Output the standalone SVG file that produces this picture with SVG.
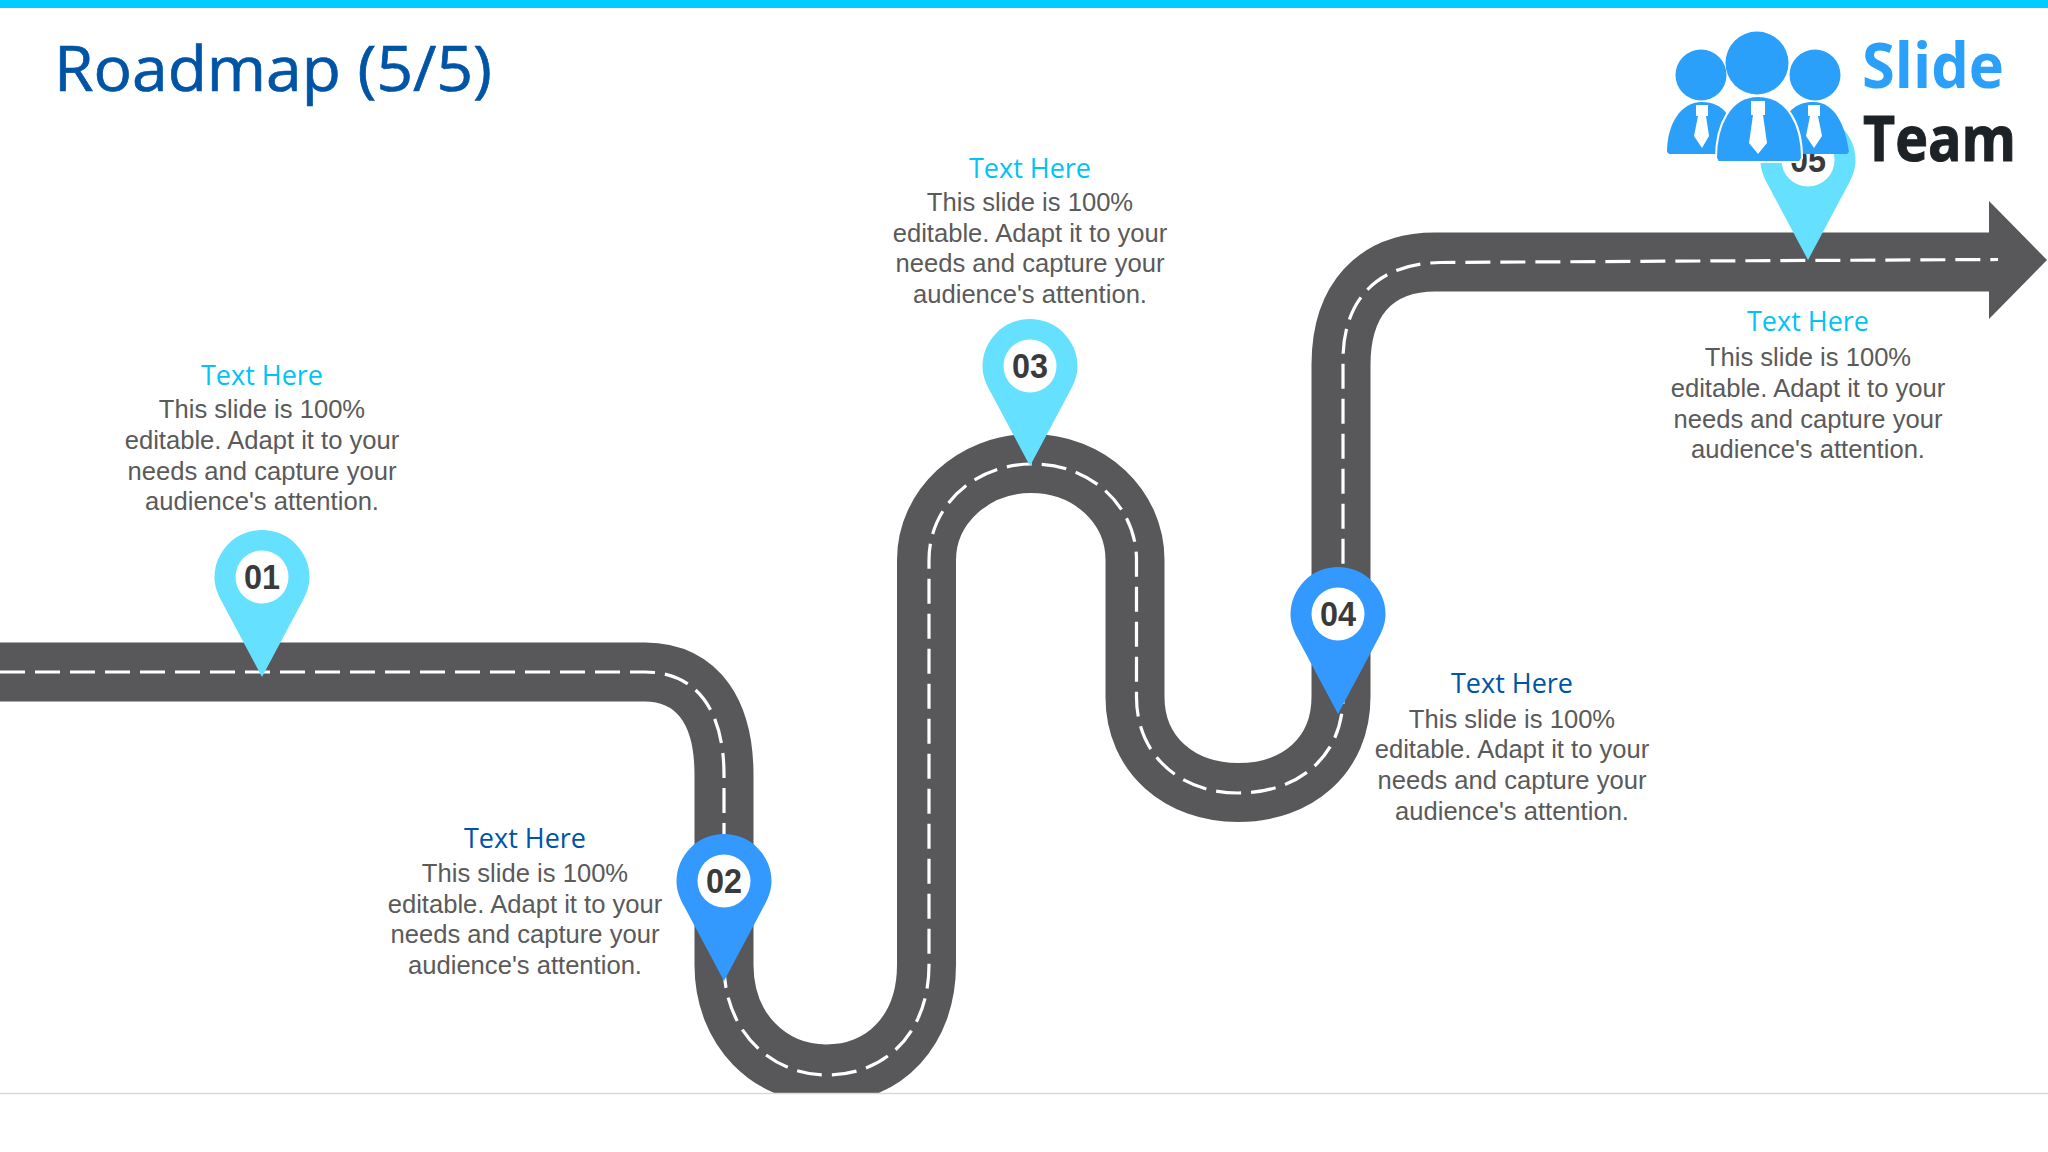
<svg xmlns="http://www.w3.org/2000/svg" width="2048" height="1152" viewBox="0 0 2048 1152">
<style>
.road{fill:none;stroke:#58575a;stroke-width:59}
.dash{fill:none;stroke:#fff;stroke-width:3.200;stroke-dasharray:25 10}
.hd{font-family:"Open Sans","Noto Sans",sans-serif;font-size:27.500px;text-anchor:middle}
.cy{fill:#00c4f5}.nv{fill:#0054a6}
.bd{font-family:"Liberation Sans",Arial,sans-serif;font-size:25.600px;fill:#5a5a5a;text-anchor:middle}
.num{font-family:"Liberation Sans",Arial,sans-serif;font-size:35px;font-weight:700;fill:#3a3a3c;text-anchor:middle}
.lt{fill:#66e0ff}.dk{fill:#3399ff}
.lg{fill:#2ba0fb}
</style>
<defs>
<path id="pin" d="M0 147 L-40 72 C-45 63 -47.500 55 -47.500 47.500 A47.500 47.500 0 0 1 47.500 47.500 C47.500 55 45 63 40 72 Z"/>
<clipPath id="clip"><rect x="0" y="0" width="2048" height="1093"/></clipPath>
</defs>
<rect width="2048" height="1152" fill="#fff"/>
<rect id="topbar" width="2048" height="8" fill="#00ccff"/>
<text x="54" y="91" font-family="Open Sans,Noto Sans,sans-serif" font-size="63" fill="#0054a6" stroke="#0054a6" stroke-width="0.700" textLength="438" lengthAdjust="spacingAndGlyphs">Roadmap (5/5)</text>
<g id="connectors" clip-path="url(#clip)">
<path class="road" d="M0 672 H645 C700 672 724 715 724 775 V965 C724 1030 770 1074 826 1074 C885 1074 926.500 1030 926.500 965 V560 C926.500 507 973 463.500 1031 463.500 C1090 463.500 1135 507 1135 560 V697 C1135 755 1180 792.500 1238 792.500 C1298 792.500 1341 755 1341 697 V365 C1341 300 1375 262 1435 262 H2000"/>
<path fill="#58575a" d="M1989 201 L2047 260 L1989 319 Z"/>
<path class="dash" d="M0 672 H645 C700 672 724 715 724 775 V965 C724 1030 770 1075 827 1075 C888 1075 929 1030 929 965 V560 C929 507 973 464 1033 464 C1092 464 1136.500 507 1136.500 560 V697 C1136.500 755 1180 793 1238 793 C1300 793 1343 755 1343 697 V360 C1343 305 1372 264 1440 262.500 L1700 261 L1998 259.500"/>
</g>
<line x1="0" y1="1093.500" x2="2048" y2="1093.500" stroke="#d9d9d9" stroke-width="1.500"/>
<g id="n1"><use href="#pin" class="lt" x="262" y="530"/><circle cx="262" cy="577" r="26.500" fill="#fff"/><text class="num" x="262" y="589" textLength="36" lengthAdjust="spacingAndGlyphs">01</text>
<text class="hd cy" x="262" y="385" textLength="122" lengthAdjust="spacingAndGlyphs">Text Here</text><text class="bd" x="262" y="418">This slide is 100%</text><text class="bd" x="262" y="449">editable. Adapt it to your</text><text class="bd" x="262" y="480">needs and capture your</text><text class="bd" x="262" y="510">audience's attention.</text></g>
<g id="n2"><use href="#pin" class="dk" x="724" y="834"/><circle cx="724" cy="881" r="26.500" fill="#fff"/><text class="num" x="724" y="893" textLength="36" lengthAdjust="spacingAndGlyphs">02</text>
<text class="hd nv" x="525" y="848" textLength="122" lengthAdjust="spacingAndGlyphs">Text Here</text><text class="bd" x="525" y="882">This slide is 100%</text><text class="bd" x="525" y="913">editable. Adapt it to your</text><text class="bd" x="525" y="943">needs and capture your</text><text class="bd" x="525" y="974">audience's attention.</text></g>
<g id="n3"><use href="#pin" class="lt" x="1030" y="319"/><circle cx="1030" cy="366" r="26.500" fill="#fff"/><text class="num" x="1030" y="378" textLength="36" lengthAdjust="spacingAndGlyphs">03</text>
<text class="hd cy" x="1030" y="178" textLength="122" lengthAdjust="spacingAndGlyphs">Text Here</text><text class="bd" x="1030" y="211">This slide is 100%</text><text class="bd" x="1030" y="242">editable. Adapt it to your</text><text class="bd" x="1030" y="272">needs and capture your</text><text class="bd" x="1030" y="303">audience's attention.</text></g>
<g id="n4"><use href="#pin" class="dk" x="1338" y="567"/><circle cx="1338" cy="614" r="26.500" fill="#fff"/><text class="num" x="1338" y="626" textLength="36" lengthAdjust="spacingAndGlyphs">04</text>
<text class="hd nv" x="1512" y="693" textLength="122" lengthAdjust="spacingAndGlyphs">Text Here</text><text class="bd" x="1512" y="728">This slide is 100%</text><text class="bd" x="1512" y="758">editable. Adapt it to your</text><text class="bd" x="1512" y="789">needs and capture your</text><text class="bd" x="1512" y="820">audience's attention.</text></g>
<g id="n5"><use href="#pin" class="lt" x="1808" y="113"/><circle cx="1808" cy="160" r="26.500" fill="#fff"/><text class="num" x="1808" y="172" textLength="36" lengthAdjust="spacingAndGlyphs">05</text>
<text class="hd cy" x="1808" y="331" textLength="122" lengthAdjust="spacingAndGlyphs">Text Here</text><text class="bd" x="1808" y="366">This slide is 100%</text><text class="bd" x="1808" y="397">editable. Adapt it to your</text><text class="bd" x="1808" y="428">needs and capture your</text><text class="bd" x="1808" y="458">audience's attention.</text></g>
<g id="logo">
<circle class="lg" cx="1701" cy="75" r="25.500"/><circle class="lg" cx="1815" cy="75" r="25.500"/><circle class="lg" cx="1757" cy="63" r="31.500"/>
<path class="lg" d="M1667 152 C1667 125 1680 102 1702 102 C1722 102 1735 115 1740 154 L1669 154 Z"/>
<path class="lg" d="M1849 152 C1845 125 1835 102 1813 102 C1793 102 1780 115 1775 154 L1847 154 Z"/>
<path class="lg" stroke="#fff" stroke-width="2" d="M1716 158 C1716 125 1730 96 1758 96 C1788 96 1802 125 1802 158 L1800 162 L1718 162 Z"/>
<path fill="#fff" d="M1696 105 H1708 V116 H1706 L1709 136 L1702 148 L1694 136 L1698 116 H1696 Z"/>
<path fill="#fff" d="M1751 101 H1765 V115 H1763 L1767 143 L1758 154 L1749 143 L1753 115 H1751 Z"/>
<path fill="#fff" d="M1808 105 H1820 V116 H1818 L1822 136 L1814 148 L1806 136 L1810 116 H1808 Z"/>
<text x="1862" y="88" font-family="Open Sans,Noto Sans,sans-serif" font-weight="700" font-size="62" fill="#2ba0fb" textLength="142" lengthAdjust="spacingAndGlyphs">Slide</text>
<text x="1863" y="161" font-family="Open Sans,Noto Sans,sans-serif" font-weight="700" font-size="62" fill="#1c2226" stroke="#1c2226" stroke-width="1" textLength="153" lengthAdjust="spacingAndGlyphs">Team</text>
</g>
</svg>
